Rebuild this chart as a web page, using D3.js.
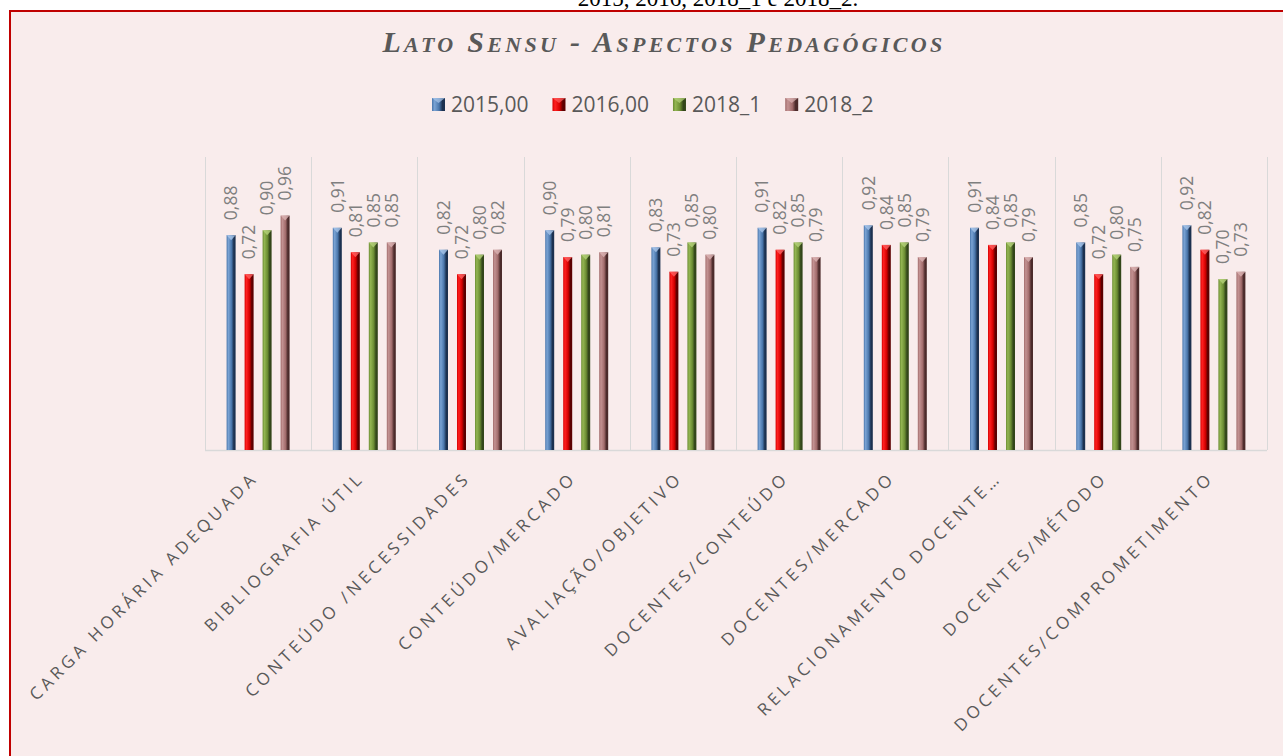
<!DOCTYPE html>
<html>
<head>
<meta charset="utf-8">
<script src="https://cdn.jsdelivr.net/npm/d3@7"></script>
<style>
  html, body { margin: 0; padding: 0; background: #ffffff; overflow: hidden; }
  svg { display: block; }
</style>
</head>
<body>
<div class="chartContainer"></div>
<script>
const WIDTH = 1283;
const HEIGHT = 756;
const PLOT_LEFT = 205;
const PLOT_RIGHT = 1267;
const PLOT_TOP = 157;
const PLOT_BOTTOM = 450;

// data
const categories = [
  'CARGA HORÁRIA ADEQUADA',
  'BIBLIOGRAFIA ÚTIL',
  'CONTEÚDO /NECESSIDADES',
  'CONTEÚDO/MERCADO',
  'AVALIAÇÃO/OBJETIVO',
  'DOCENTES/CONTEÚDO',
  'DOCENTES/MERCADO',
  'RELACIONAMENTO DOCENTE…',
  'DOCENTES/MÉTODO',
  'DOCENTES/COMPROMETIMENTO'
];
const seriesNames = ['2015,00', '2016,00', '2018_1', '2018_2'];
const values2015 = [0.88, 0.91, 0.82, 0.90, 0.83, 0.91, 0.92, 0.91, 0.85, 0.92];
const values2016 = [0.72, 0.81, 0.72, 0.79, 0.73, 0.82, 0.84, 0.84, 0.72, 0.82];
const values2018_1 = [0.90, 0.85, 0.80, 0.80, 0.85, 0.85, 0.85, 0.85, 0.80, 0.70];
const values2018_2 = [0.96, 0.85, 0.82, 0.81, 0.80, 0.79, 0.79, 0.79, 0.75, 0.73];
const yDomain = [0, 1.2];

// left, middle, right, cap
const seriesColors = [
  ['#7aa3d4', '#4a76ab', '#1c3150', '#a9c6ea'],
  ['#ff2020', '#d40000', '#5c0000', '#ff6060'],
  ['#93b552', '#6b8c33', '#33461a', '#b5d27a'],
  ['#c39292', '#a26c6c', '#4c2b2b', '#dcb4b4']
];

var svg = d3.select('.chartContainer').append('svg')
  .attr('width', WIDTH)
  .attr('height', HEIGHT);

var defs = svg.append('defs');

function addGradients() {
  seriesColors.forEach(function (c, i) {
    var g = defs.append('linearGradient')
      .attr('id', 'bar' + i)
      .attr('x1', 0).attr('x2', 1).attr('y1', 0).attr('y2', 0);
    g.append('stop').attr('offset', '0%').attr('stop-color', c[1]);
    g.append('stop').attr('offset', '20%').attr('stop-color', c[0]);
    g.append('stop').attr('offset', '55%').attr('stop-color', c[1]);
    g.append('stop').attr('offset', '80%').attr('stop-color', c[2]);
    g.append('stop').attr('offset', '100%').attr('stop-color', c[2]);
  });
}

function drawFrame() {
  // caption of the document, cut by the top edge as in the page
  svg.append('text')
    .attr('x', 718)
    .attr('y', 6)
    .attr('text-anchor', 'middle')
    .style('font-family', '"Liberation Serif", serif')
    .style('font-size', '23px')
    .style('fill', '#000')
    .text('2015, 2016, 2018_1 e 2018_2.');

  svg.append('rect')
    .attr('x', 10)
    .attr('y', 11)
    .attr('width', WIDTH + 20)
    .attr('height', HEIGHT + 20)
    .style('fill', '#f9ecec')
    .style('stroke', '#c00000')
    .style('stroke-width', 2);
}

function drawTitle() {
  var words = ['LATO', 'SENSU', '-', 'ASPECTOS', 'PEDAGÓGICOS'];
  var title = svg.append('text')
    .attr('x', 664)
    .attr('y', 52)
    .attr('text-anchor', 'middle')
    .style('font-family', '"Liberation Serif", "Times New Roman", serif')
    .style('font-weight', 'bold')
    .style('font-style', 'italic')
    .style('fill', '#595959');
  words.forEach(function (w, i) {
    var lead = (i > 0 ? ' ' : '') + w[0];
    title.append('tspan').style('font-size', '30px').text(lead);
    if (w.length > 1) {
      title.append('tspan').style('font-size', '22px').text(w.slice(1));
    }
  });
  var target = 563;
  var n = title.text().length;
  var natural = title.node().getComputedTextLength();
  title.style('letter-spacing', ((target - natural) / n) + 'px');
}

function drawLegend() {
  var legend = svg.append('g').attr('class', 'legend');
  var xPos = 432;
  seriesNames.forEach(function (name, i) {
    var item = legend.append('g').attr('transform', 'translate(' + xPos + ',98)');
    item.append('rect')
      .attr('width', 13).attr('height', 13)
      .style('fill', 'url(#bar' + i + ')');
    item.append('polygon')
      .attr('points', '0,0 13,0 6.5,5')
      .style('fill', seriesColors[i][3])
      .style('opacity', 0.7);
    var t = item.append('text')
      .attr('x', 19)
      .attr('y', 6.5)
      .attr('dy', '0.36em')
      .style('font-family', '"Open Sans", sans-serif')
      .style('font-size', '21px')
      .style('fill', '#595959')
      .text(name);
    xPos += 19 + t.node().getComputedTextLength() + 24;
  });
}

function drawChart() {
  var series = [values2015, values2016, values2018_1, values2018_2];

  var x = d3.scaleBand().domain(categories).range([PLOT_LEFT, PLOT_RIGHT]);
  var xs = d3.scaleBand().domain(seriesNames)
    .range([0, x.bandwidth()])
    .paddingInner(0.5)
    .paddingOuter(1.2);
  var y = d3.scaleLinear().domain(yDomain).range([PLOT_BOTTOM, PLOT_TOP]);

  // vertical gridlines between categories
  var bounds = categories.map(function (c) { return x(c); }).concat([PLOT_RIGHT]);
  svg.append('g').selectAll('line')
    .data(bounds)
    .join('line')
    .attr('x1', function (d) { return Math.round(d) + 0.5; })
    .attr('x2', function (d) { return Math.round(d) + 0.5; })
    .attr('y1', PLOT_TOP)
    .attr('y2', PLOT_BOTTOM)
    .style('stroke', '#d9d9d9')
    .style('stroke-width', 1);

  svg.append('line')
    .attr('x1', PLOT_LEFT).attr('x2', PLOT_RIGHT)
    .attr('y1', PLOT_BOTTOM + 0.5).attr('y2', PLOT_BOTTOM + 0.5)
    .style('stroke', '#d9d9d9')
    .style('stroke-width', 1.5);

  series.forEach(function (vals, si) {
    var g = svg.append('g').attr('class', 'series' + si);
    var bw = xs.bandwidth();
    var data = vals.map(function (v, ci) { return { cat: categories[ci], v: v }; });

    g.selectAll('rect')
      .data(data)
      .join('rect')
      .attr('x', function (d) { return x(d.cat) + xs(seriesNames[si]); })
      .attr('y', function (d) { return y(d.v); })
      .attr('width', bw)
      .attr('height', function (d) { return y(0) - y(d.v); })
      .style('fill', 'url(#bar' + si + ')');

    g.selectAll('polygon')
      .data(data)
      .join('polygon')
      .attr('points', function (d) {
        var x0 = x(d.cat) + xs(seriesNames[si]);
        var y0 = y(d.v);
        return x0 + ',' + y0 + ' ' + (x0 + bw) + ',' + y0 + ' ' + (x0 + bw / 2) + ',' + (y0 + 5);
      })
      .style('fill', seriesColors[si][3])
      .style('opacity', 0.8);

    g.selectAll('text')
      .data(data)
      .join('text')
      .attr('transform', function (d) {
        var cx = x(d.cat) + xs(seriesNames[si]) + bw / 2;
        return 'translate(' + cx + ',' + (y(d.v) - 15) + ') rotate(-90)';
      })
      .attr('dy', '0.36em')
      .style('font-family', '"Open Sans", sans-serif')
      .style('font-size', '17.5px')
      .style('fill', '#7f7f7f')
      .text(function (d) { return d3.format('.2f')(d.v).replace('.', ','); });
  });

  // category axis
  var axis = svg.append('g')
    .attr('transform', 'translate(0,' + PLOT_BOTTOM + ')')
    .call(d3.axisBottom(x).tickSize(0).tickSizeOuter(0));
  axis.select('.domain').remove();
  axis.selectAll('text')
    .attr('x', 0)
    .attr('y', 0)
    .attr('dy', 0)
    .attr('transform', 'translate(1,29) rotate(-45)')
    .attr('text-anchor', 'end')
    .style('font-family', '"Open Sans", sans-serif')
    .style('font-size', '17px')
    .style('letter-spacing', '3.9px')
    .style('fill', '#595959');
}

window.onload = function () {
  addGradients();
  drawFrame();
  drawTitle();
  drawLegend();
  drawChart();
};
</script>
</body>
</html>
